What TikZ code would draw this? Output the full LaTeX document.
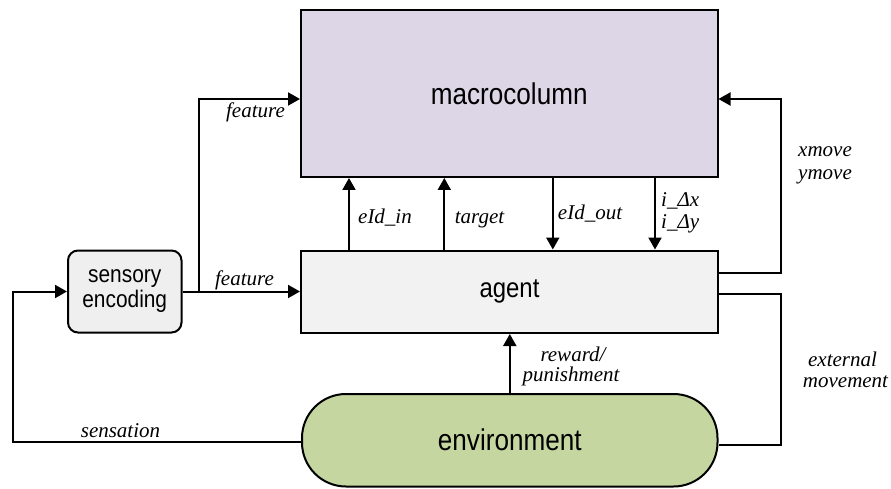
\documentclass[tikz,border=0pt]{standalone}
\usepackage{fontspec}
\setmainfont{Liberation Serif}
\newfontfamily\boxfont[FakeStretch=0.87]{Liberation Sans}
\usetikzlibrary{arrows.meta}

\definecolor{macroFill}{RGB}{220,214,230}
\definecolor{agentFill}{RGB}{242,242,242}
\definecolor{sensFill}{RGB}{239,239,239}
\definecolor{envFill}{RGB}{197,214,160}

\begin{document}
\begin{tikzpicture}[x=1pt,y=-1pt,
  block/.style={draw=black, line width=2pt, inner sep=0pt, text=black},
  wire/.style={draw=black, line width=2pt},
  arr/.style={wire, -{Triangle[length=12pt,width=13pt]}},
  lbl/.style={font=\fontsize{21}{21}\selectfont\itshape, inner sep=0pt, anchor=base}
]
\useasboundingbox (0,0) rectangle (891,489);

% blocks
\node[block, fill=macroFill, minimum width=416.5pt, minimum height=166.5pt,
      font=\boxfont\fontsize{30}{30}\selectfont] (macro) at (509.25,93.75) {macrocolumn};
\node[block, fill=agentFill, minimum width=417pt, minimum height=82.5pt,
      font=\boxfont\fontsize{27.5}{27.5}\selectfont] (agent) at (509.5,291.75) {agent};
\node[block, fill=sensFill, rounded corners=10pt, minimum width=113.5pt, minimum height=82pt,
      align=center, font=\boxfont\fontsize{24}{25}\selectfont] (sens) at (124.75,291.5) {sensory\\encoding};
\node[block, fill=envFill, rounded corners=44pt, minimum width=415.5pt, minimum height=92.5pt,
      font=\boxfont\fontsize{30}{30}\selectfont] (env) at (509.75,440.25) {environment};

% routing helpers
\coordinate (xfeat) at (198.7,0);
\coordinate (ytop) at (0,99);
\coordinate (xin) at (349,0);
\coordinate (xtgt) at (444.3,0);
\coordinate (xout) at (552.8,0);
\coordinate (xd) at (655,0);
\coordinate (xrw) at (509.8,0);
\coordinate (xright) at (781.2,0);
\coordinate (xleft) at (13,0);
\coordinate (agentR1) at ([yshift=18.5pt]agent.east);
\coordinate (agentR2) at ([yshift=-2pt]agent.east);
\coordinate (envR) at ([yshift=-4.75pt]env.east);
\coordinate (envL) at ([yshift=-1.5pt]env.west);

% connectors
\draw[arr] (sens.east) -- (sens.east -| agent.west);
\draw[arr] (sens.east -| xfeat) |- (macro.west |- ytop);
\draw[arr] (agent.north -| xin) -- (macro.south -| xin);
\draw[arr] (agent.north -| xtgt) -- (macro.south -| xtgt);
\draw[arr] (macro.south -| xout) -- (agent.north -| xout);
\draw[arr] (macro.south -| xd) -- (agent.north -| xd);
\draw[arr] (env.north -| xrw) -- (agent.south -| xrw);
\draw[arr] (agentR1) -| (xright |- ytop) -- (macro.east |- ytop);
\draw[wire] (agentR2) -| (envR -| xright) -- (envR);
\draw[arr] (envL) -| (xleft |- sens.west) -- (sens.west);

% labels
\node[lbl] (lfeat1) at (255.5,118) {feature};
\node[lbl] (lfeat2) at (244.5,285) {feature};
\node[lbl] (lsens) at (120.5,437) {sensation};
\node[lbl] (lin) at (385,223) {eId\_in};
\node[lbl] (ltgt) at (479.5,223) {target};
\node[lbl] (lout) at (590,219) {eId\_out};
\node[lbl, anchor=base west] (ldx) at (661,207) {i\_Δx};
\node[lbl, anchor=base west] (ldy) at (661,228) {i\_Δy};
\node[lbl, anchor=base west] (lxm) at (798,157) {xmove};
\node[lbl, anchor=base west] (lym) at (798,180) {ymove};
\node[lbl] (lrw) at (573,361) {reward/};
\node[lbl] (lpun) at (571,381) {punishment};
\node[lbl] (lext) at (842.5,366) {external};
\node[lbl] (lmov) at (845.5,387) {movement};
\end{tikzpicture}
\end{document}
